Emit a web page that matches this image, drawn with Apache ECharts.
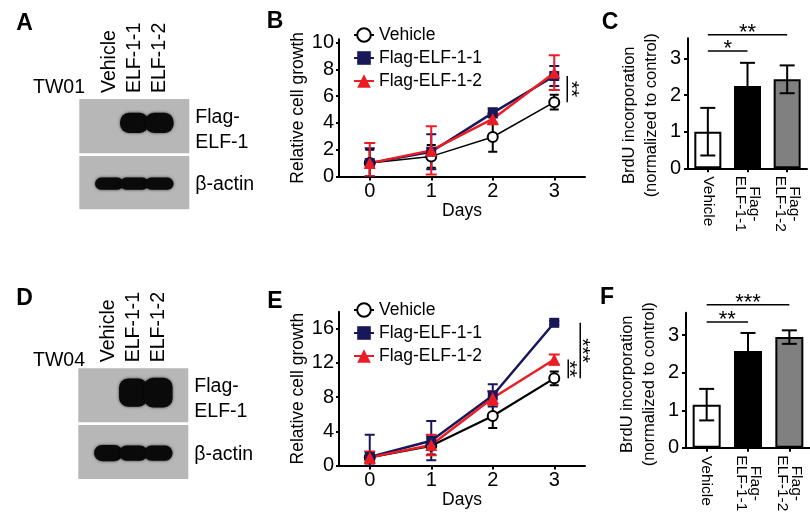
<!DOCTYPE html>
<html><head><meta charset="utf-8">
<script src="https://cdn.jsdelivr.net/npm/echarts@6/dist/echarts.min.js"></script>
<style>html,body{margin:0;padding:0;background:#fff}#c{width:810px;height:521px}</style>
</head><body><div id="c"></div>
<script>
const FONT = '"Liberation Sans", Arial, Helvetica, sans-serif';

// ---------- DATA ----------
const lanes = ['Vehicle', 'ELF-1-1', 'ELF-1-2'];
const blotRows = ['Flag-\nELF-1', 'β-actin'];
const cellLines = ['TW01', 'TW04'];
const panelLetters = ['A', 'B', 'C', 'D', 'E', 'F'];
// band signal (fraction of strip height) per lane
const blotA_flag = [0, 0.37, 0.37];
const blotA_actin = [0.23, 0.23, 0.23];
const blotD_flag = [0, 0.52, 0.55];
const blotD_actin = [0.30, 0.28, 0.28];

const seriesNames = ['Vehicle', 'Flag-ELF-1-1', 'Flag-ELF-1-2'];
const days = [0, 1, 2, 3];
// Panel B (TW01 growth)
const bVehicle = [1.0, 1.5, 2.95, 5.55];
const bVehicleErr = [1.0, 0.85, 1.1, 0.55];
const bFlag1 = [1.0, 1.85, 4.75, 7.5];
const bFlag1Err = [1.1, 1.3, 0.35, 0.75];
const bFlag2 = [1.0, 1.95, 4.3, 7.75];
const bFlag2Err = [1.5, 1.8, 0.4, 1.3];
// Panel E (TW04 growth)
const eVehicle = [0.95, 2.3, 5.8, 10.2];
const eVehicleErr = [0.4, 1.0, 1.4, 0.8];
const eFlag1 = [1.0, 2.9, 8.2, 16.7];
const eFlag1Err = [2.6, 2.3, 1.3, 0.2];
const eFlag2 = [0.95, 2.4, 7.9, 12.4];
const eFlag2Err = [0.7, 1.2, 0.8, 0.6];
// Panels C, F (BrdU)
const barCats = ['Vehicle', 'Flag-\nELF-1-1', 'Flag-\nELF-1-2'];
const cMean = [1.0, 2.25, 2.43];
const cErr = [0.65, 0.63, 0.38];
const fMean = [1.15, 2.58, 2.95];
const fErr = [0.42, 0.48, 0.18];
// significance: [label, fromIndex, toIndex, height]
const sigC = [['*', 0, 1, 3.2], ['**', 0, 2, 3.65]];
const sigF = [['**', 0, 1, 3.35], ['***', 0, 2, 3.81]];
// vertical significance at day 3: [label, seriesA, seriesB]
const sigB = [['**', 'Vehicle', 'Flag-ELF-1-1']];
const sigE = [['**', 'Vehicle', 'Flag-ELF-1-2'], ['***', 'Vehicle', 'Flag-ELF-1-1']];

// ---------- HELPERS ----------
const NAVY = '#17175a', RED = '#ec1c24', BLACK = '#000';
const barColors = ['#ffffff', '#000000', '#808080'];
const txt = {color: '#000', fontFamily: FONT};

function errData(xs, m, e) { return m.map((v, i) => [xs[i], Math.max(0, v - e[i]), v + e[i]]); }
function errRender(capW, color, lw) {
  return function (params, api) {
    const x = api.value(0), lo = api.value(1), hi = api.value(2);
    const t = api.coord([x, hi]), b = api.coord([x, lo]);
    const st = {stroke: color, lineWidth: lw};
    return {type: 'group', children: [
      {type: 'line', shape: {x1: t[0], y1: t[1], x2: b[0], y2: b[1]}, style: st},
      {type: 'line', shape: {x1: t[0] - capW / 2, y1: t[1], x2: t[0] + capW / 2, y2: t[1]}, style: st},
      {type: 'line', shape: {x1: b[0] - capW / 2, y1: b[1], x2: b[0] + capW / 2, y2: b[1]}, style: st}
    ]};
  };
}
function bandRender(centerFrac) {
  return function (params, api) {
    const h = api.value(1);
    if (!h) return null;
    const c = api.coord([api.value(0), centerFrac]);
    const s = api.size([1.14, h]);
    const r = Math.min(s[1] / 2, 9);
    return {type: 'rect', shape: {x: c[0] - s[0] / 2, y: c[1] - s[1] / 2, width: s[0], height: s[1], r: r},
      style: {fill: '#0a0a0a', shadowBlur: 3, shadowColor: 'rgba(0,0,0,0.7)'}};
  };
}
function hSigRender(list) {
  return function (params, api) {
    const p1 = api.coord([api.value(0), api.value(1)]);
    const p2 = api.coord([api.value(2), api.value(1)]);
    return {type: 'group', children: [
      {type: 'line', shape: {x1: p1[0], y1: p1[1], x2: p2[0], y2: p2[1]}, style: {stroke: '#000', lineWidth: 1.5}},
      {type: 'text', x: (p1[0] + p2[0]) / 2, y: p1[1] - 2,
        style: {text: list[params.dataIndex][0], fontSize: 22, fontFamily: FONT, fill: '#000', align: 'center', verticalAlign: 'middle'}}
    ]};
  };
}
function vSigRender(list, lineDx, textDx) {
  return function (params, api) {
    const p1 = api.coord([api.value(0), api.value(1)]);
    const p2 = api.coord([api.value(0), api.value(2)]);
    const x = p1[0] + lineDx[params.dataIndex];
    return {type: 'group', children: [
      {type: 'line', shape: {x1: x, y1: p1[1], x2: x, y2: p2[1]}, style: {stroke: '#000', lineWidth: 1.5}},
      {type: 'text', x: x + textDx[params.dataIndex], y: (p1[1] + p2[1]) / 2, rotation: -Math.PI / 2,
        style: {text: list[params.dataIndex][0], fontSize: 21, fontFamily: FONT, fill: '#000', align: 'center', verticalAlign: 'middle'}}
    ]};
  };
}
const lookup = (set) => ({'Vehicle': set[0], 'Flag-ELF-1-1': set[1], 'Flag-ELF-1-2': set[2]});
const bLook = lookup([bVehicle, bFlag1, bFlag2]);
const eLook = lookup([eVehicle, eFlag1, eFlag2]);
const vSigData = (list, look) => list.map(s => [3, look[s[1]][3], look[s[2]][3]]);

// ---------- AXES ----------
const hidden = {axisLine: {show: false}, axisTick: {show: false}, splitLine: {show: false}};
function blotX(grid, withLabels) {
  return Object.assign({gridIndex: grid, type: 'value', min: -1.2, max: 3.2, position: 'top'}, hidden, {
    axisLabel: withLabels ? Object.assign({customValues: [0, 1, 2], formatter: v => lanes[v], rotate: 90, margin: 6, fontSize: 19.5}, txt) : {show: false}
  });
}
function blotY(grid, row, at) {
  return Object.assign({gridIndex: grid, type: 'value', min: 0, max: 1, position: 'right'}, hidden, {
    axisLabel: Object.assign({customValues: [at], formatter: () => blotRows[row], margin: 6, fontSize: 19.5, lineHeight: 25}, txt)
  });
}
const axLine = {show: true, onZero: false, lineStyle: {color: '#000', width: 2}};
function lineX(grid, gap) {
  return {gridIndex: grid, type: 'value', min: -0.5, max: 3.5, axisLine: axLine,
    axisTick: {show: true, customValues: days, length: 4, lineStyle: {color: '#000', width: 2}},
    axisLabel: Object.assign({customValues: days, fontSize: 20, margin: 5}, txt), splitLine: {show: false},
    name: 'Days', nameLocation: 'middle', nameGap: gap, nameTextStyle: Object.assign({fontSize: 17.5}, txt)};
}
function lineY(grid, max, ticks) {
  return {gridIndex: grid, type: 'value', min: 0, max: max, axisLine: axLine,
    axisTick: {show: true, customValues: ticks, length: 3, lineStyle: {color: '#000', width: 2}},
    axisLabel: Object.assign({customValues: ticks, fontSize: 20, margin: 5}, txt), splitLine: {show: false},
    name: 'Relative cell growth', nameLocation: 'middle', nameGap: 32, nameMoveOverlap: false,
    nameTextStyle: Object.assign({fontSize: 17.5}, txt)};
}
function barX(grid) {
  return {gridIndex: grid, type: 'category', data: barCats, axisLine: axLine,
    axisTick: {show: true, alignWithLabel: true, length: 4, lineStyle: {color: '#000', width: 2}},
    axisLabel: Object.assign({interval: 0, rotate: -90, margin: 8, fontSize: 15.5, lineHeight: 14,
      formatter: v => v.indexOf('\n') < 0 ? v : v.split('\n').map(s => '{c|' + s + '}').join('\n'),
      rich: {c: {width: 55, align: 'center', fontSize: 15.5, lineHeight: 14, fontFamily: FONT, color: '#000'}}}, txt)};
}
function barY(grid, max, pad) {
  return {gridIndex: grid, type: 'value', min: 0, max: max, axisLine: axLine,
    axisTick: {show: true, customValues: [0, 1, 2, 3], length: 4, lineStyle: {color: '#000', width: 2}},
    axisLabel: Object.assign({customValues: [0, 1, 2, 3], fontSize: 20, margin: 7}, txt), splitLine: {show: false},
    name: 'BrdU incorporation\n(normalized to control)', nameLocation: 'middle', nameGap: 26, nameMoveOverlap: false,
    nameTextStyle: Object.assign({fontSize: 16.5, lineHeight: 22, padding: [0, pad, 0, 0]}, txt)};
}

// ---------- SERIES ----------
const series = [];
function blotSeries(gx, data, frac) {
  series.push({type: 'custom', name: 'blot' + gx, xAxisIndex: gx, yAxisIndex: gx,
    data: data.map((h, i) => [i, h]), renderItem: bandRender(frac), silent: true});
}
blotSeries(0, blotA_flag, 0.56); blotSeries(1, blotA_actin, 0.48);
blotSeries(2, blotD_flag, 0.55); blotSeries(3, blotD_actin, 0.48);

const lineStyles = [
  {symbol: 'emptyCircle', symbolSize: 10, color: BLACK},
  {symbol: 'rect', symbolSize: 10, color: NAVY},
  {symbol: 'triangle', symbolSize: 12, color: RED}
];
function growth(ax, sets, errs, widths, caps) {
  sets.forEach((vals, k) => {
    const s = lineStyles[k];
    series.push({type: 'line', name: seriesNames[k], xAxisIndex: ax, yAxisIndex: ax,
      data: days.map((d, i) => [d, vals[i]]), symbol: s.symbol, symbolSize: s.symbolSize,
      lineStyle: {color: s.color, width: widths[k]}, itemStyle: {color: s.color, borderWidth: 1.5},
      emphasis: {disabled: true}, z: 2});
    series.push({type: 'custom', name: 'err' + ax + '_' + k, xAxisIndex: ax, yAxisIndex: ax,
      data: errData(days, vals, errs[k]), renderItem: errRender(caps[k], s.color, 2), clip: true, z: 2});
  });
}
growth(4, [bVehicle, bFlag1, bFlag2], [bVehicleErr, bFlag1Err, bFlag2Err], [1.5, 2.5, 2.5], [9, 10, 11]);
growth(6, [eVehicle, eFlag1, eFlag2], [eVehicleErr, eFlag1Err, eFlag2Err], [2.2, 2.5, 2.5], [9, 10, 11]);
series.push({type: 'custom', name: 'sigB', xAxisIndex: 4, yAxisIndex: 4, data: vSigData(sigB, bLook),
  renderItem: vSigRender(sigB, [13], [4]), z: 3});
series.push({type: 'custom', name: 'sigE', xAxisIndex: 6, yAxisIndex: 6, data: vSigData(sigE, eLook),
  renderItem: vSigRender(sigE, [14, 26], [1, 2]), z: 3});

function bars(ax, mean, err, sig, bw) {
  series.push({type: 'bar', name: 'bars' + ax, xAxisIndex: ax, yAxisIndex: ax, barWidth: bw,
    data: mean.map((v, i) => ({value: v, itemStyle: {color: barColors[i], borderColor: '#000', borderWidth: 2}})),
    emphasis: {disabled: true}});
  series.push({type: 'custom', name: 'barErr' + ax, xAxisIndex: ax, yAxisIndex: ax,
    data: mean.map((v, i) => [i, v - err[i], v + err[i]]), renderItem: errRender(15, '#000', 2), z: 3});
  series.push({type: 'custom', name: 'sig' + ax, xAxisIndex: ax, yAxisIndex: ax,
    data: sig.map(s => [s[1], s[3], s[2]]), renderItem: hSigRender(sig), z: 3});
}
bars(5, cMean, cErr, sigC, 27);
bars(7, fMean, fErr, sigF, 28);

// ---------- LABELS ----------
const letterPos = [[24.5, 23.5], [275, 21.7], [610, 22.3], [24.5, 299], [275, 301.7], [607, 298]];
const graphic = panelLetters.map((t, i) => ({type: 'text', x: letterPos[i][0], y: letterPos[i][1],
  style: {text: t, fontSize: 23, fontWeight: 'bold', fontFamily: FONT, fill: '#000', align: 'center', verticalAlign: 'middle'}}));
const linePos = [[59, 87.5], [59, 360.5]];
cellLines.forEach((t, i) => graphic.push({type: 'text', x: linePos[i][0], y: linePos[i][1],
  style: {text: t, fontSize: 19.5, fontFamily: FONT, fill: '#000', align: 'center', verticalAlign: 'middle'}}));

const legendBase = {data: seriesNames, orient: 'vertical', left: 348, itemWidth: 20, itemHeight: 17, itemGap: 5,
  selectedMode: false, textStyle: Object.assign({fontSize: 17.5, lineHeight: 18}, txt)};

const gray = {show: true, backgroundColor: '#b7b7b7', borderWidth: 0, outerBoundsMode: 'none'};
const plain = {outerBoundsMode: 'none', containLabel: false};
const option = {
  animation: false,
  backgroundColor: '#fff',
  textStyle: {fontFamily: FONT},
  grid: [
    Object.assign({left: 79.3, top: 99, width: 110, height: 54.3}, gray),
    Object.assign({left: 79.3, top: 156, width: 110, height: 53.3}, gray),
    Object.assign({left: 78.3, top: 368.3, width: 110, height: 54}, gray),
    Object.assign({left: 78.3, top: 425, width: 110, height: 54}, gray),
    Object.assign({left: 339, top: 39.2, width: 246, height: 137.3}, plain),
    Object.assign({left: 688, top: 38.3, width: 119, height: 130}, plain),
    Object.assign({left: 339, top: 311.7, width: 246, height: 153.8}, plain),
    Object.assign({left: 686, top: 312.7, width: 124, height: 135.1}, plain)
  ],
  xAxis: [blotX(0, true), blotX(1, false), blotX(2, true), blotX(3, false),
    lineX(4, 25.5), barX(5), lineX(6, 21.5), barX(7)],
  yAxis: [blotY(0, 0, 0.42), blotY(1, 1, 0.46), blotY(2, 0, 0.42), blotY(3, 1, 0.46),
    lineY(4, 10.25, [0, 2, 4, 6, 8, 10]), barY(5, 3.55, 24), lineY(6, 18, [0, 4, 8, 12, 16]), barY(7, 3.6, 8)],
  legend: [Object.assign({top: 21}, legendBase), Object.assign({top: 296}, legendBase)],
  series: series,
  graphic: graphic
};
const chart = echarts.init(document.getElementById('c'), null, {renderer: 'canvas'});
chart.setOption(option);
</script>
</body></html>
